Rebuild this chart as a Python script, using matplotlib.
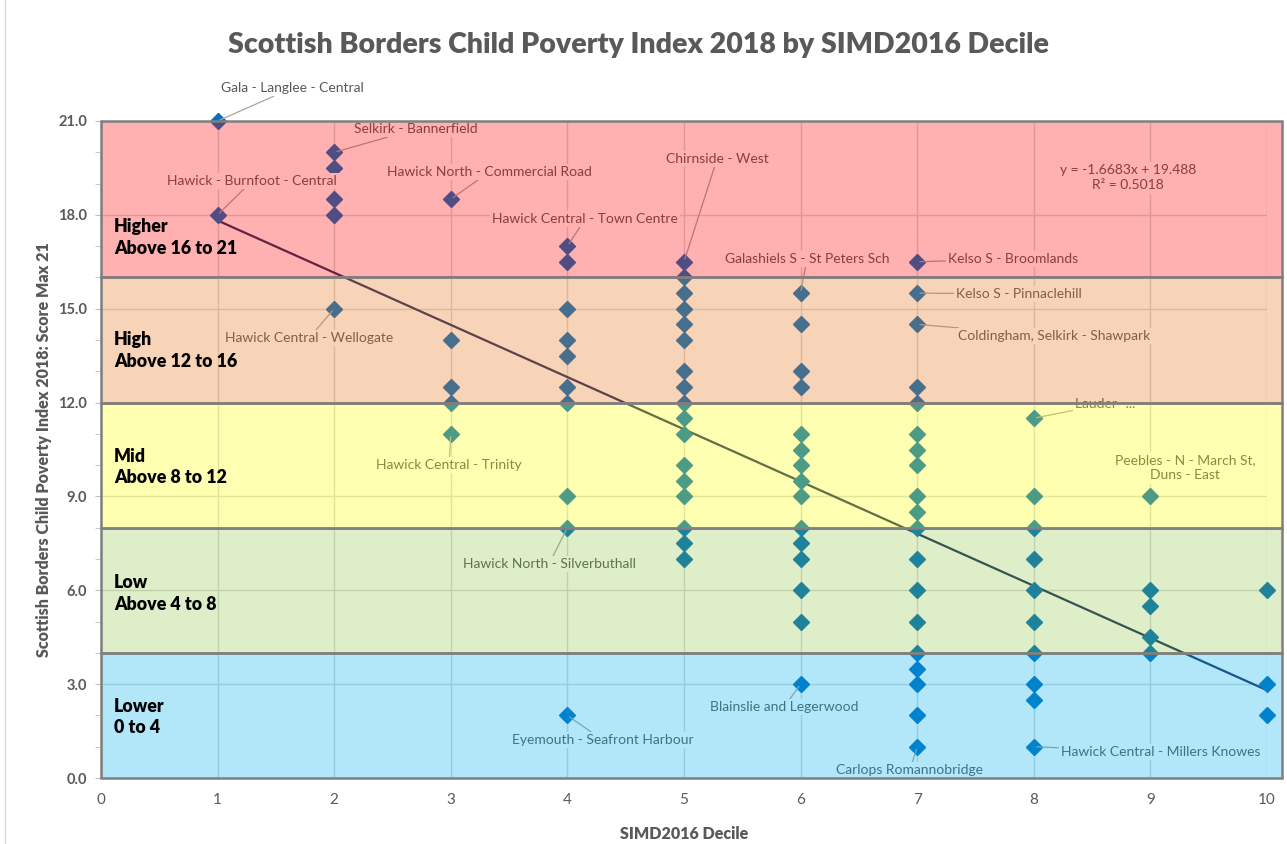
import matplotlib
matplotlib.use("Agg")
import matplotlib.pyplot as plt
from matplotlib.patches import Rectangle
from matplotlib.lines import Line2D
from matplotlib.ticker import MultipleLocator, FormatStrFormatter

plt.rcParams['font.family'] = ['Lato', 'DejaVu Sans']

# ---------------- data ----------------
deciles = [1, 2, 3, 4, 5, 6, 7, 8, 9, 10]
scores_d1 = [21, 18]
scores_d2 = [20, 19.5, 18.5, 18, 15]
scores_d3 = [18.5, 14, 12.5, 12, 11]
scores_d4 = [17, 16.5, 15, 14, 13.5, 12.5, 12, 9, 8, 2]
scores_d5 = [16.5, 16, 15.5, 15, 14.5, 14, 13, 12.5, 12, 11.5, 11, 10, 9.5, 9, 8, 7.5, 7]
scores_d6 = [15.5, 14.5, 13, 12.5, 11, 10.5, 10, 9.5, 9, 8, 7.5, 7, 6, 5, 3]
scores_d7 = [16.5, 15.5, 14.5, 12.5, 12, 11, 10.5, 10, 9, 8.5, 8, 7, 6, 5, 4, 3.5, 3, 2, 1]
scores_d8 = [11.5, 9, 8, 7, 6, 5, 4, 3, 2.5, 1]
scores_d9 = [9, 6, 5.5, 4.5, 4]
scores_d10 = [6, 3, 2]
all_scores = [scores_d1, scores_d2, scores_d3, scores_d4, scores_d5,
              scores_d6, scores_d7, scores_d8, scores_d9, scores_d10]

band_lower = [0, 4, 8, 12, 16]
band_upper = [4, 8, 12, 16, 21]
band_names = ["Lower\n0 to 4", "Low\nAbove 4 to 8", "Mid\nAbove 8 to 12",
              "High\nAbove 12 to 16", "Higher\nAbove 16 to 21"]

trend_slope = -1.6683
trend_intercept = 19.488
trend_x = [1, 10]
trend_text = "y = -1.6683x + 19.488\nR² = 0.5018"

label_names = ["Gala - Langlee - Central", "Selkirk - Bannerfield",
               "Hawick - Burnfoot - Central", "Hawick North - Commercial Road",
               "Hawick Central - Town Centre", "Chirnside - West",
               "Galashiels S - St Peters Sch", "Kelso S - Broomlands",
               "Kelso S - Pinnaclehill", "Coldingham, Selkirk - Shawpark",
               "Lauder -...", "Hawick Central - Wellogate",
               "Hawick Central - Trinity", "Hawick North - Silverbuthall",
               "Eyemouth - Seafront Harbour", "Blainslie and Legerwood",
               "Carlops Romannobridge", "Hawick Central - Millers Knowes",
               "Peebles - N - March St,\nDuns - East"]
label_x = [1, 2, 1, 3, 4, 5, 6, 7, 7, 7, 8, 2, 3, 4, 4, 6, 7, 8, 9]
label_y = [21, 20, 18, 18.5, 17, 16.5, 15.5, 16.5, 15.5, 14.5, 11.5, 15, 11, 8, 2, 3, 1, 1, 9]

x_ticks = [0, 1, 2, 3, 4, 5, 6, 7, 8, 9, 10]
title = "Scottish Borders Child Poverty Index 2018 by SIMD2016 Decile"
x_title = "SIMD2016 Decile"
y_title = "Scottish Borders Child Poverty Index 2018: Score Max 21"

# ---------------- layout (positions of text boxes) ----------------
label_text_pos = [(1.638, 22.05), (2.70, 20.74), (1.295, 19.08), (3.328, 19.37),
                  (4.151, 17.86), (5.283, 19.78), (6.055, 16.59), (7.82, 16.59),
                  (7.873, 15.47), (8.173, 14.13), (8.61, 11.95), (1.784, 14.06),
                  (2.985, 10.0), (3.842, 6.84), (4.305, 1.21), (5.858, 2.27),
                  (6.938, 0.26), (9.091, 0.83), (9.297, 9.91)]
label_has_leader = [True] * 18 + [False]
band_label_y = [1.95, 5.91, 9.94, 13.65, 17.29]
band_colors = [(0.0, 0.69, 0.94, 0.30), (0.47, 0.75, 0.16, 0.25),
               (1.0, 1.0, 0.0, 0.30), (0.90, 0.43, 0.08, 0.30),
               (1.0, 0.0, 0.0, 0.31)]
band_right = 10.13

GRAY = "#595959"

fig = plt.figure(figsize=(12.87, 8.44), dpi=100)
ax = fig.add_axes([101 / 1287, 66 / 844, 1166 / 1287, 657 / 844])
ax.set_xlim(0, 10)
ax.set_ylim(0, 21)

# grid
ax.set_axisbelow(True)
ax.yaxis.set_major_locator(MultipleLocator(3))
ax.yaxis.set_minor_locator(MultipleLocator(1))
ax.yaxis.set_major_formatter(FormatStrFormatter('%.1f'))
ax.set_xticks(x_ticks)
ax.grid(True, which='major', color='#D9D9D9', lw=1.0)

for s in ['top', 'right', 'bottom']:
    ax.spines[s].set_visible(False)
ax.spines['left'].set_color('#7F7F7F')

ax.tick_params(axis='x', length=0, pad=11, labelsize=11, labelcolor=GRAY)
ax.tick_params(axis='y', which='both', length=4, color='#BFBFBF', direction='out')
ax.tick_params(axis='y', which='major', pad=6, labelsize=10.5, labelcolor=GRAY)
for t in ax.get_yticklabels():
    t.set_fontweight('bold')

# trend line
ty = [trend_intercept + trend_slope * v for v in trend_x]
ax.plot(trend_x, ty, color='#1F3060', lw=1.6, zorder=2)

# points
for d, sc in zip(deciles, all_scores):
    ax.plot([d] * len(sc), sc, linestyle='none', marker='D', ms=7.8,
            color='#0070C0', mec='#0A6FBF', zorder=3, clip_on=False)

# data labels
for name, px, py, (tx, tyy), lead in zip(label_names, label_x, label_y,
                                          label_text_pos, label_has_leader):
    ap = dict(arrowstyle='-', color='#A6A6A6', lw=0.9, shrinkA=0, shrinkB=2) if lead else None
    ax.annotate(name, xy=(px, py), xytext=(tx, tyy), textcoords='data',
                ha='center', va='center', fontsize=10, color=GRAY,
                linespacing=1.3,
                bbox=dict(boxstyle='square,pad=0.15', fc='white', ec='none'),
                arrowprops=ap, zorder=4, annotation_clip=False)

ax.text(8.808, 19.18, trend_text, ha='center', va='center', fontsize=10,
        color=GRAY, linespacing=1.3, zorder=4,
        bbox=dict(boxstyle='square,pad=0.15', fc='white', ec='none'))

# bands overlay
for lo, hi, c in zip(band_lower, band_upper, band_colors):
    ax.add_patch(Rectangle((0, lo), band_right, hi - lo, facecolor=c,
                           edgecolor='#7F7F7F', lw=1.8, zorder=5, clip_on=False))

for nm, yy in zip(band_names, band_label_y):
    ax.text(0.11, yy, nm, ha='left', va='center', fontsize=12.8, fontweight='heavy',
            color='black', linespacing=1.35, zorder=6)

# titles
fig.text(638 / 1287, 1 - 45 / 844, title, ha='center', va='center',
         fontsize=20.5, fontweight='heavy', color=GRAY)
ax.set_xlabel(x_title, fontsize=11.5, fontweight='heavy', color=GRAY)
ax.xaxis.set_label_coords(0.5, -0.073)
ax.set_ylabel(y_title, fontsize=11.5, fontweight='heavy', color=GRAY)
ax.yaxis.set_label_coords(-0.042, 0.5)

fig.add_artist(Line2D([5 / 1287, 5 / 1287], [0, 1], color='#D9D9D9', lw=1,
                      transform=fig.transFigure))

fig.savefig("out.png", dpi=100)
